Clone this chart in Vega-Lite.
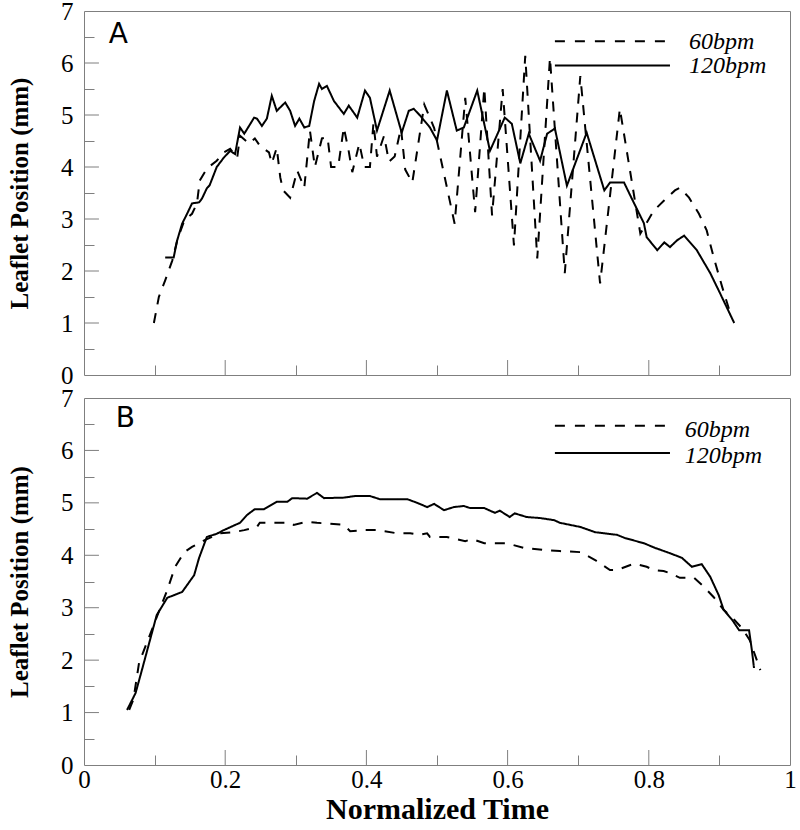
{
  "$schema": "https://vega.github.io/schema/vega-lite/v6.json",
  "padding": {"left": 7, "top": -2, "right": 0, "bottom": 0},
  "config": {
    "view": {"stroke": "#7f7f7f", "strokeWidth": 1},
    "font": "Liberation Serif",
    "axis": {
      "domain": false, "grid": false, "tickColor": "#7f7f7f", "tickWidth": 1,
      "labelFont": "Liberation Serif", "labelFontSize": 25, "labelColor": "black",
      "titleFont": "Liberation Serif", "titleFontWeight": "bold", "titleColor": "black",
      "labelFlush": false, "labelOverlap": false
    }
  },
  "datasets": {
    "yticks": [{"tick":1},{"tick":2},{"tick":3},{"tick":4},{"tick":5},{"tick":6}],
    "xticks": [{"tick":0.2},{"tick":0.4},{"tick":0.6},{"tick":0.8}],
    "A": [
      {"s":"120bpm","t":0.115,"v":2.26},{"s":"120bpm","t":0.127,"v":2.26},{"s":"120bpm","t":0.132,"v":2.59},{"s":"120bpm","t":0.139,"v":2.91},{"s":"120bpm","t":0.146,"v":3.10},{"s":"120bpm","t":0.153,"v":3.30},{"s":"120bpm","t":0.163,"v":3.32},{"s":"120bpm","t":0.167,"v":3.39},{"s":"120bpm","t":0.174,"v":3.59},{"s":"120bpm","t":0.178,"v":3.65},{"s":"120bpm","t":0.188,"v":4.0},{"s":"120bpm","t":0.198,"v":4.18},{"s":"120bpm","t":0.207,"v":4.31},{"s":"120bpm","t":0.214,"v":4.25},{"s":"120bpm","t":0.221,"v":4.76},{"s":"120bpm","t":0.227,"v":4.64},{"s":"120bpm","t":0.241,"v":4.95},{"s":"120bpm","t":0.245,"v":4.93},{"s":"120bpm","t":0.252,"v":4.79},{"s":"120bpm","t":0.259,"v":4.93},{"s":"120bpm","t":0.266,"v":5.37},{"s":"120bpm","t":0.273,"v":5.08},{"s":"120bpm","t":0.285,"v":5.24},{"s":"120bpm","t":0.292,"v":5.08},{"s":"120bpm","t":0.299,"v":4.79},{"s":"120bpm","t":0.305,"v":4.93},{"s":"120bpm","t":0.312,"v":4.76},{"s":"120bpm","t":0.319,"v":4.79},{"s":"120bpm","t":0.326,"v":5.27},{"s":"120bpm","t":0.333,"v":5.6},{"s":"120bpm","t":0.337,"v":5.5},{"s":"120bpm","t":0.344,"v":5.56},{"s":"120bpm","t":0.354,"v":5.27},{"s":"120bpm","t":0.368,"v":5.02},{"s":"120bpm","t":0.375,"v":5.18},{"s":"120bpm","t":0.387,"v":4.95},{"s":"120bpm","t":0.398,"v":5.47},{"s":"120bpm","t":0.405,"v":5.33},{"s":"120bpm","t":0.412,"v":4.89},{"s":"120bpm","t":0.415,"v":4.70},{"s":"120bpm","t":0.433,"v":5.47},{"s":"120bpm","t":0.450,"v":4.66},{"s":"120bpm","t":0.460,"v":5.08},{"s":"120bpm","t":0.467,"v":5.12},{"s":"120bpm","t":0.476,"v":4.99},{"s":"120bpm","t":0.490,"v":4.76},{"s":"120bpm","t":0.500,"v":4.51},{"s":"120bpm","t":0.514,"v":5.47},{"s":"120bpm","t":0.528,"v":4.70},{"s":"120bpm","t":0.538,"v":4.76},{"s":"120bpm","t":0.557,"v":5.47},{"s":"120bpm","t":0.575,"v":4.31},{"s":"120bpm","t":0.596,"v":4.95},{"s":"120bpm","t":0.606,"v":4.83},{"s":"120bpm","t":0.618,"v":4.07},{"s":"120bpm","t":0.630,"v":4.64},{"s":"120bpm","t":0.646,"v":4.12},{"s":"120bpm","t":0.656,"v":4.64},{"s":"120bpm","t":0.667,"v":4.74},{"s":"120bpm","t":0.684,"v":3.64},{"s":"120bpm","t":0.712,"v":4.66},{"s":"120bpm","t":0.737,"v":3.55},{"s":"120bpm","t":0.745,"v":3.70},{"s":"120bpm","t":0.765,"v":3.70},{"s":"120bpm","t":0.776,"v":3.39},{"s":"120bpm","t":0.793,"v":2.92},{"s":"120bpm","t":0.797,"v":2.65},{"s":"120bpm","t":0.812,"v":2.40},{"s":"120bpm","t":0.822,"v":2.55},{"s":"120bpm","t":0.830,"v":2.46},{"s":"120bpm","t":0.840,"v":2.59},{"s":"120bpm","t":0.850,"v":2.68},{"s":"120bpm","t":0.868,"v":2.40},{"s":"120bpm","t":0.887,"v":1.96},{"s":"120bpm","t":0.901,"v":1.57},{"s":"120bpm","t":0.921,"v":1.0},
      {"s":"60bpm","t":0.099,"v":1.0},{"s":"60bpm","t":0.106,"v":1.5},{"s":"60bpm","t":0.115,"v":1.82},{"s":"60bpm","t":0.125,"v":2.2},{"s":"60bpm","t":0.132,"v":2.59},{"s":"60bpm","t":0.142,"v":2.97},{"s":"60bpm","t":0.153,"v":3.1},{"s":"60bpm","t":0.160,"v":3.3},{"s":"60bpm","t":0.164,"v":3.74},{"s":"60bpm","t":0.174,"v":3.97},{"s":"60bpm","t":0.188,"v":4.12},{"s":"60bpm","t":0.198,"v":4.28},{"s":"60bpm","t":0.207,"v":4.35},{"s":"60bpm","t":0.217,"v":4.18},{"s":"60bpm","t":0.221,"v":4.6},{"s":"60bpm","t":0.234,"v":4.45},{"s":"60bpm","t":0.242,"v":4.55},{"s":"60bpm","t":0.249,"v":4.41},{"s":"60bpm","t":0.262,"v":4.28},{"s":"60bpm","t":0.266,"v":4.07},{"s":"60bpm","t":0.273,"v":4.37},{"s":"60bpm","t":0.278,"v":3.8},{"s":"60bpm","t":0.282,"v":3.55},{"s":"60bpm","t":0.292,"v":3.41},{"s":"60bpm","t":0.302,"v":3.93},{"s":"60bpm","t":0.312,"v":3.6},{"s":"60bpm","t":0.320,"v":4.7},{"s":"60bpm","t":0.327,"v":4.0},{"s":"60bpm","t":0.337,"v":4.55},{"s":"60bpm","t":0.345,"v":4.57},{"s":"60bpm","t":0.350,"v":4.0},{"s":"60bpm","t":0.360,"v":4.0},{"s":"60bpm","t":0.368,"v":4.76},{"s":"60bpm","t":0.375,"v":4.3},{"s":"60bpm","t":0.380,"v":3.9},{"s":"60bpm","t":0.390,"v":4.45},{"s":"60bpm","t":0.397,"v":4.0},{"s":"60bpm","t":0.405,"v":4.0},{"s":"60bpm","t":0.410,"v":4.85},{"s":"60bpm","t":0.415,"v":4.2},{"s":"60bpm","t":0.425,"v":4.6},{"s":"60bpm","t":0.432,"v":4.1},{"s":"60bpm","t":0.440,"v":4.2},{"s":"60bpm","t":0.449,"v":4.75},{"s":"60bpm","t":0.455,"v":3.95},{"s":"60bpm","t":0.465,"v":3.7},{"s":"60bpm","t":0.482,"v":5.2},{"s":"60bpm","t":0.496,"v":4.75},{"s":"60bpm","t":0.525,"v":2.91},{"s":"60bpm","t":0.540,"v":5.33},{"s":"60bpm","t":0.554,"v":3.13},{"s":"60bpm","t":0.567,"v":5.52},{"s":"60bpm","t":0.578,"v":3.07},{"s":"60bpm","t":0.593,"v":5.5},{"s":"60bpm","t":0.609,"v":2.49},{"s":"60bpm","t":0.625,"v":6.14},{"s":"60bpm","t":0.642,"v":2.24},{"s":"60bpm","t":0.660,"v":6.1},{"s":"60bpm","t":0.681,"v":1.96},{"s":"60bpm","t":0.703,"v":5.75},{"s":"60bpm","t":0.731,"v":1.76},{"s":"60bpm","t":0.759,"v":5.12},{"s":"60bpm","t":0.788,"v":2.72},{"s":"60bpm","t":0.807,"v":3.16},{"s":"60bpm","t":0.822,"v":3.36},{"s":"60bpm","t":0.837,"v":3.55},{"s":"60bpm","t":0.844,"v":3.6},{"s":"60bpm","t":0.857,"v":3.41},{"s":"60bpm","t":0.871,"v":3.1},{"s":"60bpm","t":0.882,"v":2.78},{"s":"60bpm","t":0.892,"v":2.26},{"s":"60bpm","t":0.904,"v":1.69},{"s":"60bpm","t":0.914,"v":1.25}
    ],
    "B": [
      {"s":"120bpm","t":0.061,"v":1.05},{"s":"120bpm","t":0.073,"v":1.37},{"s":"120bpm","t":0.082,"v":1.81},{"s":"120bpm","t":0.103,"v":2.86},{"s":"120bpm","t":0.118,"v":3.19},{"s":"120bpm","t":0.139,"v":3.3},{"s":"120bpm","t":0.156,"v":3.62},{"s":"120bpm","t":0.163,"v":3.95},{"s":"120bpm","t":0.174,"v":4.35},{"s":"120bpm","t":0.188,"v":4.41},{"s":"120bpm","t":0.198,"v":4.48},{"s":"120bpm","t":0.221,"v":4.62},{"s":"120bpm","t":0.231,"v":4.77},{"s":"120bpm","t":0.242,"v":4.88},{"s":"120bpm","t":0.255,"v":4.88},{"s":"120bpm","t":0.273,"v":5.02},{"s":"120bpm","t":0.288,"v":5.02},{"s":"120bpm","t":0.295,"v":5.09},{"s":"120bpm","t":0.316,"v":5.08},{"s":"120bpm","t":0.330,"v":5.19},{"s":"120bpm","t":0.340,"v":5.09},{"s":"120bpm","t":0.368,"v":5.1},{"s":"120bpm","t":0.384,"v":5.13},{"s":"120bpm","t":0.405,"v":5.13},{"s":"120bpm","t":0.419,"v":5.07},{"s":"120bpm","t":0.458,"v":5.07},{"s":"120bpm","t":0.472,"v":5.0},{"s":"120bpm","t":0.486,"v":4.92},{"s":"120bpm","t":0.496,"v":4.98},{"s":"120bpm","t":0.510,"v":4.86},{"s":"120bpm","t":0.524,"v":4.92},{"s":"120bpm","t":0.538,"v":4.94},{"s":"120bpm","t":0.547,"v":4.9},{"s":"120bpm","t":0.567,"v":4.9},{"s":"120bpm","t":0.582,"v":4.81},{"s":"120bpm","t":0.589,"v":4.85},{"s":"120bpm","t":0.603,"v":4.73},{"s":"120bpm","t":0.610,"v":4.8},{"s":"120bpm","t":0.627,"v":4.73},{"s":"120bpm","t":0.646,"v":4.71},{"s":"120bpm","t":0.666,"v":4.67},{"s":"120bpm","t":0.674,"v":4.62},{"s":"120bpm","t":0.703,"v":4.54},{"s":"120bpm","t":0.724,"v":4.44},{"s":"120bpm","t":0.755,"v":4.39},{"s":"120bpm","t":0.766,"v":4.33},{"s":"120bpm","t":0.793,"v":4.23},{"s":"120bpm","t":0.809,"v":4.14},{"s":"120bpm","t":0.830,"v":4.04},{"s":"120bpm","t":0.847,"v":3.95},{"s":"120bpm","t":0.861,"v":3.78},{"s":"120bpm","t":0.875,"v":3.83},{"s":"120bpm","t":0.887,"v":3.59},{"s":"120bpm","t":0.899,"v":3.24},{"s":"120bpm","t":0.906,"v":2.96},{"s":"120bpm","t":0.918,"v":2.77},{"s":"120bpm","t":0.928,"v":2.57},{"s":"120bpm","t":0.942,"v":2.57},{"s":"120bpm","t":0.946,"v":2.19},{"s":"120bpm","t":0.949,"v":1.85},
      {"s":"60bpm","t":0.064,"v":1.05},{"s":"60bpm","t":0.070,"v":1.25},{"s":"60bpm","t":0.078,"v":1.95},{"s":"60bpm","t":0.089,"v":2.33},{"s":"60bpm","t":0.103,"v":2.82},{"s":"60bpm","t":0.118,"v":3.34},{"s":"60bpm","t":0.129,"v":3.78},{"s":"60bpm","t":0.142,"v":4.06},{"s":"60bpm","t":0.153,"v":4.16},{"s":"60bpm","t":0.171,"v":4.29},{"s":"60bpm","t":0.193,"v":4.42},{"s":"60bpm","t":0.212,"v":4.44},{"s":"60bpm","t":0.227,"v":4.48},{"s":"60bpm","t":0.245,"v":4.54},{"s":"60bpm","t":0.249,"v":4.62},{"s":"60bpm","t":0.273,"v":4.62},{"s":"60bpm","t":0.292,"v":4.62},{"s":"60bpm","t":0.297,"v":4.58},{"s":"60bpm","t":0.316,"v":4.64},{"s":"60bpm","t":0.330,"v":4.62},{"s":"60bpm","t":0.368,"v":4.58},{"s":"60bpm","t":0.377,"v":4.46},{"s":"60bpm","t":0.397,"v":4.48},{"s":"60bpm","t":0.415,"v":4.48},{"s":"60bpm","t":0.426,"v":4.46},{"s":"60bpm","t":0.443,"v":4.42},{"s":"60bpm","t":0.462,"v":4.42},{"s":"60bpm","t":0.475,"v":4.39},{"s":"60bpm","t":0.486,"v":4.42},{"s":"60bpm","t":0.490,"v":4.35},{"s":"60bpm","t":0.514,"v":4.35},{"s":"60bpm","t":0.540,"v":4.27},{"s":"60bpm","t":0.550,"v":4.31},{"s":"60bpm","t":0.567,"v":4.23},{"s":"60bpm","t":0.599,"v":4.23},{"s":"60bpm","t":0.623,"v":4.14},{"s":"60bpm","t":0.652,"v":4.1},{"s":"60bpm","t":0.674,"v":4.08},{"s":"60bpm","t":0.703,"v":4.06},{"s":"60bpm","t":0.724,"v":3.91},{"s":"60bpm","t":0.745,"v":3.72},{"s":"60bpm","t":0.755,"v":3.72},{"s":"60bpm","t":0.773,"v":3.81},{"s":"60bpm","t":0.780,"v":3.84},{"s":"60bpm","t":0.797,"v":3.78},{"s":"60bpm","t":0.807,"v":3.72},{"s":"60bpm","t":0.821,"v":3.7},{"s":"60bpm","t":0.830,"v":3.66},{"s":"60bpm","t":0.844,"v":3.57},{"s":"60bpm","t":0.864,"v":3.57},{"s":"60bpm","t":0.878,"v":3.4},{"s":"60bpm","t":0.892,"v":3.2},{"s":"60bpm","t":0.906,"v":2.96},{"s":"60bpm","t":0.921,"v":2.77},{"s":"60bpm","t":0.932,"v":2.61},{"s":"60bpm","t":0.943,"v":2.38},{"s":"60bpm","t":0.953,"v":2.0},{"s":"60bpm","t":0.958,"v":1.81}
    ]
  },
  "vconcat": [
    {
      "width": 706, "height": 364,
      "resolve": {"axis": {"x": "independent", "y": "independent"}},
      "layer": [
        {
          "data": {"name": "A"},
          "mark": {"type": "line", "color": "black", "strokeWidth": 2},
          "encoding": {
            "x": {"field": "t", "type": "quantitative", "scale": {"domain": [0, 1]}, "axis": null},
            "y": {"field": "v", "type": "quantitative", "scale": {"domain": [0, 7]},
              "axis": {"values": [0,1,2,3,4,5,6,7], "format": "d", "title": "Leaflet Position (mm)", "titleFontSize": 25, "titlePadding": 28,
                "labelPadding": 11, "ticks": false}},
            "strokeDash": {"field": "s", "type": "nominal", "scale": {"domain": ["60bpm", "120bpm"], "range": [[10, 9], [1, 0]]}, "legend": null}
          }
        },
        {"data": {"name": "yticks"}, "mark": {"type": "rule", "color": "#7f7f7f", "strokeWidth": 1},
          "encoding": {"y": {"field": "tick", "type": "quantitative", "axis": null}, "x": {"datum": 0, "axis": null}, "x2": {"datum": 0.0212}}},
        {"data": {"name": "xticks"}, "mark": {"type": "rule", "color": "#7f7f7f", "strokeWidth": 1},
          "encoding": {"x": {"field": "tick", "type": "quantitative", "axis": null}, "y": {"datum": 0, "axis": null}, "y2": {"datum": 0.288}}},
        {"data": {"values": [{}]}, "mark": {"type": "rule", "color": "black", "strokeWidth": 2, "strokeDash": [10, 10]},
          "encoding": {"x": {"datum": 0.667, "axis": null}, "x2": {"datum": 0.823}, "y": {"datum": 6.42, "axis": null}}},
        {"data": {"values": [{}]}, "mark": {"type": "rule", "color": "black", "strokeWidth": 2},
          "encoding": {"x": {"datum": 0.667, "axis": null}, "x2": {"datum": 0.830}, "y": {"datum": 5.95, "axis": null}}},
        {"data": {"values": [{"label": "60bpm", "v": 6.27}, {"label": "120bpm", "v": 5.81}]},
          "mark": {"type": "text", "font": "Liberation Serif", "fontStyle": "italic", "fontSize": 24, "align": "left", "baseline": "alphabetic", "color": "black"},
          "encoding": {
            "x": {"datum": 0.857, "axis": {"orient": "bottom", "values": [0.1,0.3,0.5,0.7,0.9], "labels": false, "title": null, "tickSize": -10}},
            "y": {"field": "v", "type": "quantitative", "axis": {"orient": "left", "values": [0.5,1.5,2.5,3.5,4.5,5.5,6.5], "labels": false, "title": null, "tickSize": -10}},
            "text": {"field": "label"}}},
        {"data": {"values": [{"label": "A"}]},
          "mark": {"type": "text", "font": "DejaVu Sans", "fontSize": 28, "align": "left", "baseline": "alphabetic", "color": "black"},
          "encoding": {"x": {"datum": 0.035, "axis": null}, "y": {"datum": 6.39, "axis": null}, "text": {"field": "label"}}}
      ]
    },
    {
      "width": 706, "height": 367,
      "resolve": {"axis": {"x": "independent", "y": "independent"}},
      "layer": [
        {
          "data": {"name": "B"},
          "mark": {"type": "line", "color": "black", "strokeWidth": 2},
          "encoding": {
            "x": {"field": "t", "type": "quantitative", "scale": {"domain": [0, 1]},
              "axis": {"values": [0,0.2,0.4,0.6,0.8,1], "format": "~g", "title": "Normalized Time", "titleFontSize": 30, "titlePadding": 2,
                "labelPadding": 2, "ticks": false}},
            "y": {"field": "v", "type": "quantitative", "scale": {"domain": [0, 7]},
              "axis": {"values": [0,1,2,3,4,5,6,7], "format": "d", "title": "Leaflet Position (mm)", "titleFontSize": 25, "titlePadding": 28,
                "labelPadding": 11, "ticks": false}},
            "strokeDash": {"field": "s", "type": "nominal", "scale": {"domain": ["60bpm", "120bpm"], "range": [[10, 9], [1, 0]]}, "legend": null}
          }
        },
        {"data": {"name": "yticks"}, "mark": {"type": "rule", "color": "#7f7f7f", "strokeWidth": 1},
          "encoding": {"y": {"field": "tick", "type": "quantitative", "axis": null}, "x": {"datum": 0, "axis": null}, "x2": {"datum": 0.0212}}},
        {"data": {"name": "xticks"}, "mark": {"type": "rule", "color": "#7f7f7f", "strokeWidth": 1},
          "encoding": {"x": {"field": "tick", "type": "quantitative", "axis": null}, "y": {"datum": 0, "axis": null}, "y2": {"datum": 0.286}}},
        {"data": {"values": [{}]}, "mark": {"type": "rule", "color": "black", "strokeWidth": 2, "strokeDash": [10, 10]},
          "encoding": {"x": {"datum": 0.667, "axis": null}, "x2": {"datum": 0.823}, "y": {"datum": 6.47, "axis": null}}},
        {"data": {"values": [{}]}, "mark": {"type": "rule", "color": "black", "strokeWidth": 2},
          "encoding": {"x": {"datum": 0.667, "axis": null}, "x2": {"datum": 0.830}, "y": {"datum": 5.95, "axis": null}}},
        {"data": {"values": [{"label": "60bpm", "v": 6.26}, {"label": "120bpm", "v": 5.76}]},
          "mark": {"type": "text", "font": "Liberation Serif", "fontStyle": "italic", "fontSize": 24, "align": "left", "baseline": "alphabetic", "color": "black"},
          "encoding": {
            "x": {"datum": 0.851, "axis": {"orient": "bottom", "values": [0.1,0.3,0.5,0.7,0.9], "labels": false, "title": null, "tickSize": -10}},
            "y": {"field": "v", "type": "quantitative", "axis": {"orient": "left", "values": [0.5,1.5,2.5,3.5,4.5,5.5,6.5], "labels": false, "title": null, "tickSize": -10}},
            "text": {"field": "label"}}},
        {"data": {"values": [{"label": "B"}]},
          "mark": {"type": "text", "font": "DejaVu Sans", "fontSize": 28, "align": "left", "baseline": "alphabetic", "color": "black"},
          "encoding": {"x": {"datum": 0.045, "axis": null}, "y": {"datum": 6.45, "axis": null}, "text": {"field": "label"}}}
      ]
    }
  ],
  "spacing": -4
}
